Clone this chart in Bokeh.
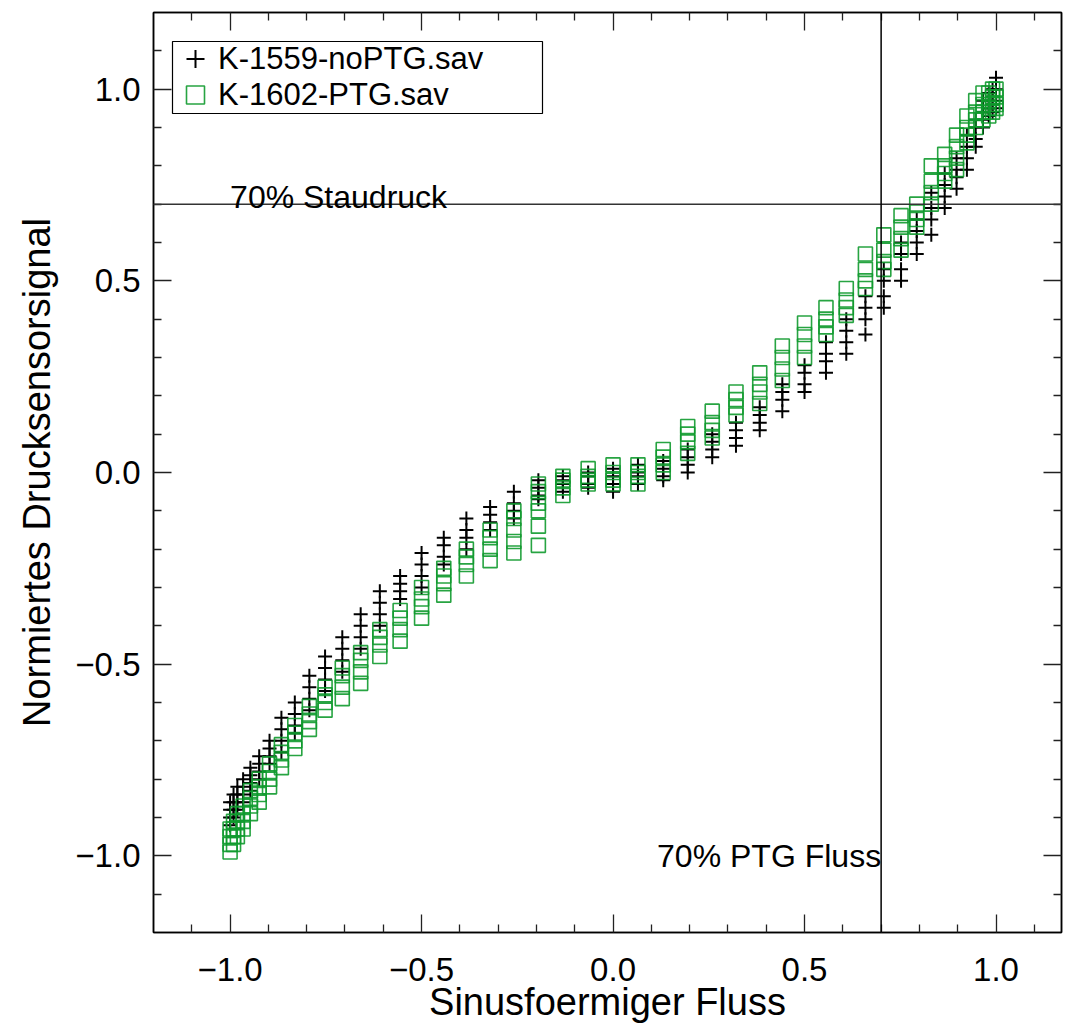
from bokeh.plotting import figure
from bokeh.models import (Range1d, LinearAxis, FixedTicker, Span, Label, Legend, LegendItem,
                          CustomLabelingPolicy, BoxAnnotation)
from bokeh.embed import file_html
from bokeh.resources import INLINE

# ---- data ----
flow_levels = [-1.0, -0.991, -0.981, -0.966, -0.947, -0.924, -0.897, -0.866, -0.831, -0.793,
               -0.752, -0.707, -0.659, -0.609, -0.556, -0.5, -0.442, -0.383, -0.321, -0.259,
               -0.195, -0.131, -0.065, 0.0, 0.065, 0.131, 0.195, 0.259, 0.321, 0.383,
               0.442, 0.5, 0.556, 0.609, 0.659, 0.707, 0.752, 0.793, 0.831, 0.866,
               0.897, 0.924, 0.947, 0.966, 0.981, 0.991, 1.0]

nopt_signal = [
    [-0.86, -0.88, -0.90, -0.92], [-0.84, -0.86, -0.88, -0.90], [-0.82, -0.84, -0.86, -0.88],
    [-0.80, -0.82, -0.84, -0.86], [-0.77, -0.79, -0.81, -0.83], [-0.74, -0.76, -0.78, -0.80],
    [-0.70, -0.72, -0.74, -0.76], [-0.64, -0.67, -0.70, -0.73], [-0.60, -0.63, -0.66, -0.68],
    [-0.53, -0.56, -0.59, -0.62], [-0.48, -0.51, -0.54, -0.57], [-0.43, -0.46, -0.49, -0.52],
    [-0.37, -0.40, -0.43, -0.46], [-0.31, -0.34, -0.37, -0.40], [-0.27, -0.29, -0.31, -0.33],
    [-0.21, -0.24, -0.27, -0.30], [-0.17, -0.19, -0.22, -0.24], [-0.12, -0.15, -0.17, -0.20],
    [-0.09, -0.11, -0.13, -0.15], [-0.05, -0.08, -0.10, -0.12], [-0.02, -0.04, -0.06, -0.07],
    [-0.01, -0.02, -0.03, -0.05], [0.0, -0.01, -0.03, -0.04], [0.01, -0.01, -0.03, -0.05],
    [0.02, 0.0, -0.01, -0.03], [0.03, 0.01, -0.01, -0.02], [0.06, 0.04, 0.02, 0.0],
    [0.10, 0.08, 0.06, 0.04], [0.13, 0.11, 0.09, 0.07], [0.17, 0.15, 0.13, 0.11],
    [0.23, 0.21, 0.19, 0.16], [0.28, 0.26, 0.23, 0.21], [0.34, 0.31, 0.29, 0.26],
    [0.40, 0.37, 0.34, 0.31], [0.46, 0.43, 0.40, 0.36], [0.53, 0.50, 0.46, 0.43],
    [0.60, 0.57, 0.53, 0.50], [0.66, 0.63, 0.60, 0.57], [0.73, 0.69, 0.66, 0.62],
    [0.78, 0.75, 0.72, 0.69], [0.82, 0.79, 0.77, 0.74], [0.88, 0.85, 0.82, 0.79],
    [0.92, 0.90, 0.87, 0.85], [0.97, 0.94, 0.92, 0.90], [0.99, 0.97, 0.95, 0.93],
    [1.00, 0.98, 0.96, 0.94], [1.03, 1.00, 0.97, 0.95],
]

ptg_signal = [
    [-0.93, -0.95, -0.97, -0.99], [-0.91, -0.93, -0.95, -0.97], [-0.89, -0.91, -0.93, -0.95],
    [-0.87, -0.89, -0.91, -0.93], [-0.83, -0.85, -0.87, -0.89], [-0.80, -0.82, -0.84, -0.86],
    [-0.76, -0.78, -0.80, -0.82], [-0.71, -0.73, -0.75, -0.77], [-0.66, -0.68, -0.70, -0.72],
    [-0.61, -0.63, -0.65, -0.67], [-0.56, -0.58, -0.60, -0.62], [-0.51, -0.53, -0.56, -0.59],
    [-0.47, -0.49, -0.52, -0.55], [-0.41, -0.43, -0.45, -0.48], [-0.36, -0.38, -0.41, -0.44],
    [-0.30, -0.33, -0.35, -0.38], [-0.25, -0.27, -0.29, -0.32], [-0.20, -0.22, -0.24, -0.27],
    [-0.15, -0.17, -0.20, -0.23], [-0.10, -0.12, -0.15, -0.18, -0.21],
    [-0.03, -0.05, -0.08, -0.10, -0.14, -0.19],
    [-0.01, -0.02, -0.04, -0.06], [0.01, -0.01, -0.02, -0.03], [0.02, 0.0, -0.02, -0.03],
    [0.02, 0.0, -0.01, -0.03], [0.06, 0.04, 0.02, 0.0], [0.12, 0.10, 0.08, 0.05],
    [0.16, 0.13, 0.11, 0.09], [0.21, 0.19, 0.17, 0.15], [0.26, 0.23, 0.21, 0.18],
    [0.33, 0.30, 0.27, 0.24], [0.39, 0.36, 0.33, 0.30], [0.43, 0.40, 0.38, 0.36],
    [0.48, 0.45, 0.43, 0.41], [0.57, 0.53, 0.50, 0.48], [0.62, 0.58, 0.55, 0.53],
    [0.67, 0.64, 0.61, 0.58], [0.70, 0.68, 0.66, 0.64], [0.80, 0.76, 0.73, 0.70],
    [0.83, 0.80, 0.78, 0.76], [0.88, 0.85, 0.82, 0.79], [0.93, 0.90, 0.88, 0.86],
    [0.97, 0.94, 0.92, 0.90], [0.99, 0.96, 0.94, 0.92], [0.99, 0.97, 0.95, 0.93],
    [1.00, 0.98, 0.96, 0.94], [1.00, 0.98, 0.96, 0.95],
]

series_names = ["K-1559-noPTG.sav", "K-1602-PTG.sav"]

major_ticks = [-1.0, -0.5, 0.0, 0.5, 1.0]
major_tick_labels = ["\u22121.0", "\u22120.5", "0.0", "0.5", "1.0"]
minor_ticks = [-1.1, -0.9, -0.8, -0.7, -0.6, -0.4, -0.3, -0.2, -0.1,
               0.1, 0.2, 0.3, 0.4, 0.6, 0.7, 0.8, 0.9, 1.1]

ref_flow = 0.7
ref_pressure = 0.7

# ---- flatten the clusters ----
nopt_x = [x for x, ys in zip(flow_levels, nopt_signal) for _ in ys]
nopt_y = [v for ys in nopt_signal for v in ys]
ptg_x = [x for x, ys in zip(flow_levels, ptg_signal) for _ in ys]
ptg_y = [v for ys in ptg_signal for v in ys]

FONT = "Liberation Sans"
GREEN = "#0f9a2e"

p = figure(width=1066, height=1027,
           x_range=Range1d(-1.2, 1.171), y_range=Range1d(-1.2, 1.2),
           output_backend="svg", toolbar_location=None,
           min_border_left=153, min_border_right=0, min_border_top=12, min_border_bottom=95)

p.grid.visible = False
p.outline_line_color = "black"
p.outline_line_width = 1.5
p.background_fill_color = "white"
p.border_fill_color = "white"

labels_map = {t: l for t, l in zip(major_ticks, major_tick_labels)}

no_labels = CustomLabelingPolicy(code="""
for (let i = 0; i < indices.size; i++) { indices.unset(i) }
return indices
""")


def style_axis(ax, show_labels):
    ax.ticker = FixedTicker(ticks=major_ticks, minor_ticks=minor_ticks)
    ax.major_tick_in = 18
    ax.major_tick_out = 0
    ax.minor_tick_in = 8
    ax.minor_tick_out = 0
    ax.major_tick_line_color = "#222222"
    ax.minor_tick_line_color = "#222222"
    ax.major_tick_line_width = 1.3
    ax.minor_tick_line_width = 1.3
    ax.axis_line_color = "black"
    ax.axis_line_width = 1.5
    if show_labels:
        ax.major_label_overrides = labels_map
        ax.major_label_text_font = FONT
        ax.major_label_text_font_size = "33px"
        ax.major_label_text_color = "black"
        ax.axis_label_text_font = FONT
        ax.axis_label_text_font_size = "38px"
        ax.axis_label_text_font_style = "normal"
        ax.axis_label_text_color = "black"
    else:
        ax.major_label_policy = no_labels
        ax.major_label_text_font_size = "1px"
        ax.major_label_standoff = 0
        ax.axis_label = None


xa = p.xaxis[0]
ya = p.yaxis[0]
style_axis(xa, True)
style_axis(ya, True)
xa.axis_label = "Sinusfoermiger Fluss"
ya.axis_label = "Normiertes Drucksensorsignal"
xa.major_label_standoff = 25
xa.axis_label_standoff = -3
ya.major_label_standoff = 13
ya.axis_label_standoff = 14

top_ax = LinearAxis()
style_axis(top_ax, False)
p.add_layout(top_ax, "above")
right_ax = LinearAxis()
style_axis(right_ax, False)
p.add_layout(right_ax, "right")

r_nopt = p.scatter(nopt_x, nopt_y, marker="cross", size=14, line_color="black",
                   line_width=2)
r_ptg = p.scatter(ptg_x, ptg_y, marker="square", size=14, fill_color=None,
                  line_color=GREEN, line_width=1.6, line_alpha=0.9)

p.add_layout(Span(location=ref_pressure, dimension="width", line_color="#333333", line_width=1.5))
p.add_layout(Span(location=ref_flow, dimension="height", line_color="black", line_width=1.5))

p.add_layout(Label(x=-1.0, y=0.72, text="70% Staudruck", text_font=FONT,
                   text_font_size="32px", text_baseline="alphabetic", text_color="black"))
p.add_layout(Label(x=ref_flow, y=-1.0, text="70% PTG Fluss", text_font=FONT,
                   text_font_size="32px", text_baseline="alphabetic", text_align="right",
                   text_color="black"))

# legend frame (screen units, relative to the plot frame), then one legend per row
p.add_layout(BoxAnnotation(left=19, right=389, bottom=819, top=891,
                           left_units="screen", right_units="screen",
                           bottom_units="screen", top_units="screen",
                           fill_color="white", fill_alpha=1.0,
                           line_color="black", line_width=1.2, line_alpha=1.0))


def make_legend(label, renderer, bottom):
    return Legend(items=[LegendItem(label=label, renderers=[renderer])],
                  location=(19, bottom), glyph_width=46, glyph_height=45, spacing=0,
                  padding=0, label_standoff=0, label_height=28,
                  label_text_font=FONT, label_text_font_size="31px",
                  label_text_color="black", border_line_color=None,
                  background_fill_alpha=0.0, margin=0)


p.add_layout(make_legend(series_names[0], r_nopt, 851))
p.add_layout(make_legend(series_names[1], r_ptg, 815))

open("out.html", "w").write(file_html(p, INLINE))
